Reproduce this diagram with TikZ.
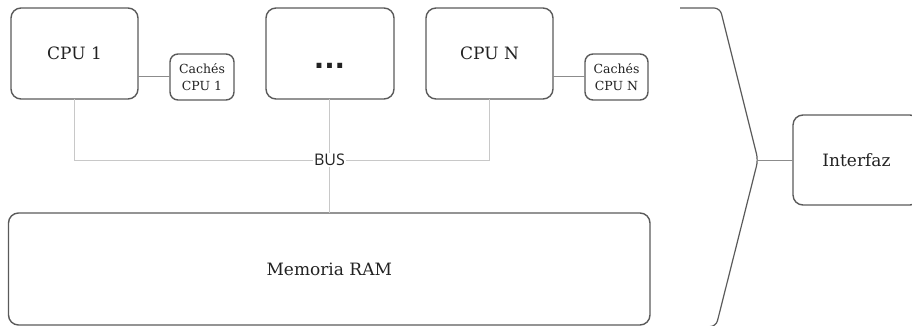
\documentclass[tikz,border=0pt]{standalone}
\usepackage{fontspec}
\setmainfont{DejaVu Serif}
\newfontfamily\busfont{Open Sans}
\newfontfamily\dotfont{DejaVu Sans}
\definecolor{boxline}{HTML}{5A5A5A}
\definecolor{inktext}{HTML}{222222}
\definecolor{busgray}{HTML}{C8C8C8}
\definecolor{linkgray}{HTML}{8C8C8C}
\begin{document}
\begin{tikzpicture}[x=1pt,y=-1pt,
  unit/.style={draw=boxline, line width=1.4pt, rounded corners=10pt,
    outer sep=0pt, inner sep=0pt, text=inktext, align=center,
    font=\fontsize{17}{20}\selectfont},
  cachebox/.style={unit, rounded corners=8pt,
    font=\fontsize{12.5}{17}\selectfont},
  busline/.style={draw=busgray, line width=0.9pt},
  linkline/.style={draw=linkgray, line width=1pt},
  bracketline/.style={draw=boxline, line width=1.2pt, rounded corners=6pt}]

  \clip (0,0) rectangle (912,326);
  \useasboundingbox (0,0) rectangle (912,326);

  % processors
  \node[unit, minimum width=127pt, minimum height=91pt] (cpu1) at (74.5,53.5) {CPU 1};
  \node[cachebox, minimum width=64pt, minimum height=46pt] (cache1) at (202,77) {Cachés\\CPU 1};
  \node[unit, minimum width=128pt, minimum height=91pt] (dotsbox) at (330,53.5) {};
  \node[anchor=base, inner sep=0pt, text=inktext,
    font=\dotfont\bfseries\fontsize{27.5}{30}\selectfont] (dotstxt) at (329.5,69) {...};
  \node[unit, minimum width=127pt, minimum height=91pt] (cpun) at (489.5,53.5) {CPU N};
  \node[cachebox, minimum width=63pt, minimum height=46pt] (cachen) at (616.5,77) {Cachés\\CPU N};

  % main memory
  \node[unit, minimum width=641.5pt, minimum height=112pt] (ram) at (329.25,269) {Memoria RAM};

  % shared bus
  \node[inner sep=1pt, text=inktext, font=\busfont\fontsize{16}{18}\selectfont] (bus) at (329.5,160) {BUS};
  \draw[busline] (cpu1.south) |- (bus.west);
  \draw[busline] (cpun.south) |- (bus.east);
  \draw[busline] (dotsbox.south -| bus.north) -- (bus.north);
  \draw[busline] (bus.south) -- (ram.north -| bus.south);

  % caches attached to their CPUs
  \draw[linkline] (cpu1.east |- cache1.west) -- (cache1.west);
  \draw[linkline] (cpun.east |- cachen.west) -- (cachen.west);

  % interface grouping bracket
  \node[unit, minimum width=127pt, minimum height=90pt] (iface) at (856.5,160) {Interfaz};
  \coordinate (tip) at (758,160);
  \coordinate (topend) at (680,8);
  \coordinate (botend) at (690,326.6);
  \draw[bracketline] (topend) -- (720,8) -- (tip) -- (716,326.6) -- (botend);
  \draw[linkline] (tip) -- (iface.west);
\end{tikzpicture}
\end{document}
